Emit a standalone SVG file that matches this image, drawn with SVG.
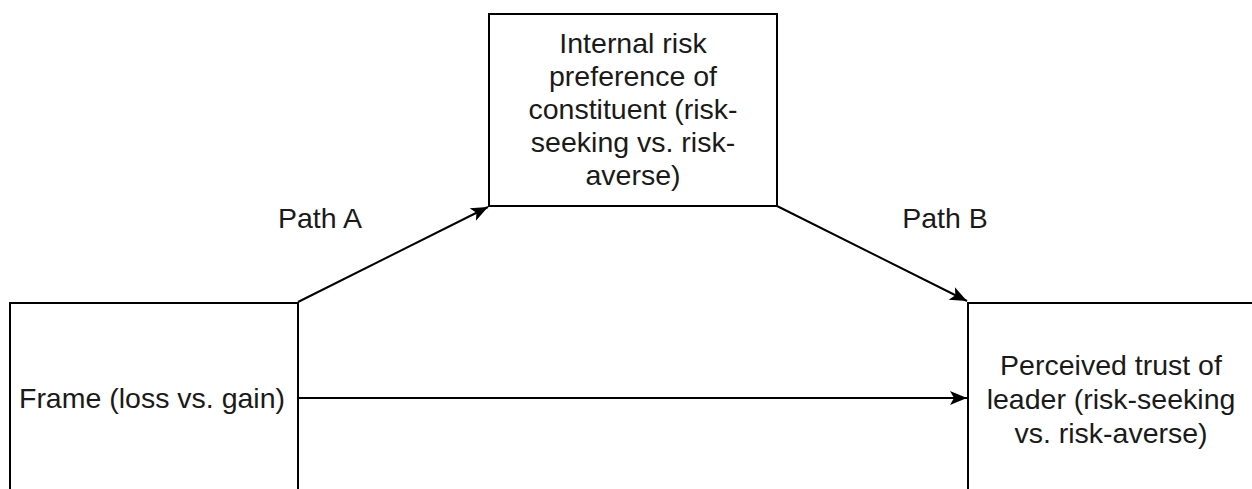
<svg xmlns="http://www.w3.org/2000/svg" width="1252" height="489" viewBox="0 0 1252 489">
<style>
.box{fill:#ffffff;stroke:#000000;stroke-width:2}
.t{font-family:"Liberation Sans",Arial,sans-serif;font-size:28.5px;fill:#1a1a1a;text-anchor:middle}
.edge{fill:none;stroke:#000000;stroke-width:2}
</style>
<defs>
<marker id="arr" markerUnits="userSpaceOnUse" markerWidth="20" markerHeight="16" viewBox="0 0 20 16" refX="18" refY="8" orient="auto">
<path d="M1,1 L18,8 L1,15 L5,8 z" fill="#000000"/>
</marker>
</defs>
<rect width="1252" height="489" fill="#ffffff"/>
<g id="node-mediator">
<rect class="box" x="489" y="14" width="288" height="192"/>
<text class="t" x="633" y="53">Internal risk</text>
<text class="t" x="633" y="86">preference of</text>
<text class="t" x="633" y="119">constituent (risk-</text>
<text class="t" x="633" y="152">seeking vs. risk-</text>
<text class="t" x="633" y="185">averse)</text>
</g>
<g id="node-frame">
<rect class="box" x="10" y="303" width="288" height="200"/>
<text class="t" x="152" y="408">Frame (loss vs. gain)</text>
</g>
<g id="node-trust">
<rect class="box" x="968" y="303" width="290" height="200"/>
<text class="t" x="1111" y="375">Perceived trust of</text>
<text class="t" x="1111" y="409">leader (risk-seeking</text>
<text class="t" x="1111" y="443">vs. risk-averse)</text>
</g>
<g id="connectors">
<line class="edge" x1="298" y1="302" x2="488" y2="207" marker-end="url(#arr)"/>
<line class="edge" x1="777" y1="206" x2="967" y2="301" marker-end="url(#arr)"/>
<line class="edge" x1="298" y1="398" x2="967" y2="398" marker-end="url(#arr)"/>
<text class="t" x="320" y="228">Path A</text>
<text class="t" x="945" y="228">Path B</text>
</g>
</svg>
